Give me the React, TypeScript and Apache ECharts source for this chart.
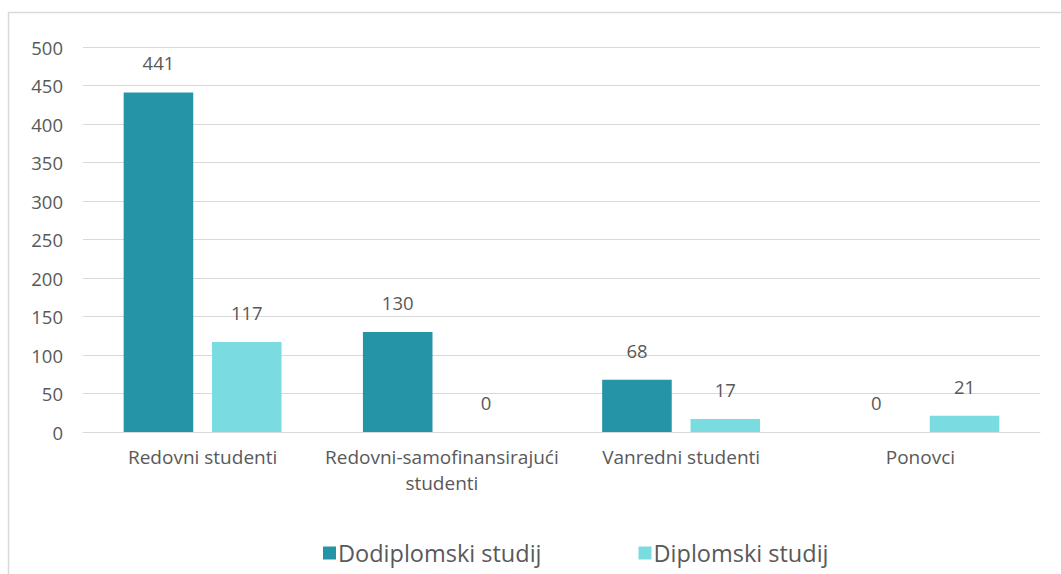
import React, { useEffect, useRef } from "react";
import * as echarts from "echarts";

const categories = ["Redovni studenti", "Redovni-samofinansirajući\nstudenti", "Vanredni studenti", "Ponovci"];
const dodiplomski = [441, 130, 68, 0];
const diplomski = [117, 0, 17, 21];
const seriesNames = ["Dodiplomski studij", "Diplomski studij"];
const yTicks = { min: 0, max: 500, interval: 50 };

const FONT = "'Open Sans', 'Noto Sans', sans-serif";
const TEXT = "#595959";

export default function App() {
  const ref = useRef<HTMLDivElement>(null);
  useEffect(() => {
    const chart = echarts.init(ref.current!, null, { renderer: "svg" });
    const label = {
      show: true,
      position: "top",
      distance: 20,
      color: TEXT,
      fontSize: 18.5,
      fontFamily: FONT,
    };
    chart.setOption({
      animation: false,
      backgroundColor: "#ffffff",
      textStyle: { fontFamily: FONT },
      graphic: [
        {
          type: "rect",
          shape: { x: 8.5, y: 12.5, width: 1100, height: 700 },
          style: { fill: "none", stroke: "#d9d9d9", lineWidth: 1.5 },
          silent: true,
          z: -10,
        },
      ],
      grid: { left: 83, right: 21, top: 47, bottom: 142, containLabel: false },
      legend: {
        top: 536,
        left: 318,
        itemWidth: 13,
        itemHeight: 13,
        itemGap: 97,
        icon: "rect",
        textStyle: { color: TEXT, fontSize: 23.5, fontFamily: FONT, padding: [0, 0, 0, -3] },
        data: seriesNames,
      },
      xAxis: {
        type: "category",
        data: categories,
        axisLine: { show: true, lineStyle: { color: "#d9d9d9", width: 1 } },
        axisTick: { show: false },
        axisLabel: {
          color: TEXT,
          fontSize: 19,
          fontFamily: FONT,
          margin: 12,
          lineHeight: 26,
          interval: 0,
        },
      },
      yAxis: {
        type: "value",
        min: yTicks.min,
        max: yTicks.max,
        interval: yTicks.interval,
        axisLine: { show: false },
        axisTick: { show: false },
        axisLabel: { color: TEXT, fontSize: 18.5, fontFamily: FONT, margin: 20 },
        splitLine: { lineStyle: { color: "#d9d9d9", width: 1 } },
      },
      series: [
        {
          name: seriesNames[0],
          type: "bar",
          data: dodiplomski,
          itemStyle: { color: "#2494a6" },
          barGap: "27%",
          barCategoryGap: "34%",
          label,
        },
        {
          name: seriesNames[1],
          type: "bar",
          data: diplomski,
          itemStyle: { color: "#7adce1" },
          barGap: "27%",
          barCategoryGap: "34%",
          label,
        },
      ],
    });
    return () => chart.dispose();
  }, []);
  return (
    <div
      ref={ref}
      style={{ position: "fixed", left: 0, top: 0, width: 1061, height: 574 }}
    />
  );
}
